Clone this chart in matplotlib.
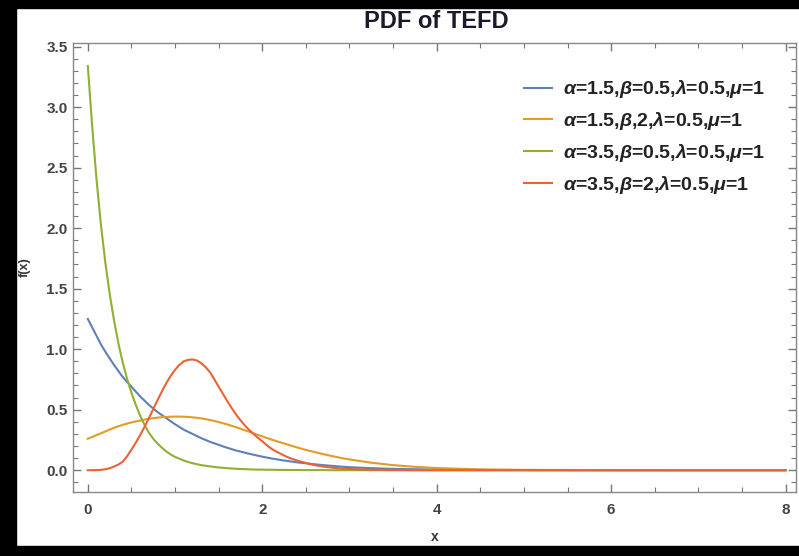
import matplotlib
matplotlib.use("Agg")
import matplotlib.pyplot as plt
from matplotlib.patches import Rectangle
from matplotlib.ticker import MultipleLocator

# values
xs = [0.0, 0.05, 0.1, 0.15, 0.2, 0.25, 0.3, 0.35, 0.4, 0.45,
      0.5, 0.55, 0.6, 0.65, 0.7, 0.75, 0.8, 0.85, 0.9, 0.95,
      1.0, 1.05, 1.1, 1.15, 1.2, 1.25, 1.3, 1.35, 1.4, 1.45,
      1.5, 1.55, 1.6, 1.65, 1.7, 1.75, 1.8, 1.85, 1.9, 1.95,
      2.0, 2.05, 2.1, 2.15, 2.2, 2.25, 2.3, 2.35, 2.4, 2.45,
      2.5, 2.6, 2.7, 2.8, 2.9, 3.0, 3.25, 3.5, 3.75, 4.0,
      4.5, 5.0, 6.0, 7.0, 8.0]

blue = [1.25, 1.18, 1.11, 1.04, 0.98, 0.925, 0.87, 0.82, 0.77, 0.73,
        0.69, 0.65, 0.61, 0.575, 0.54, 0.51, 0.48, 0.455, 0.43, 0.405,
        0.38, 0.357, 0.335, 0.317, 0.30, 0.282, 0.265, 0.25, 0.235, 0.222,
        0.21, 0.197, 0.185, 0.174, 0.163, 0.154, 0.145, 0.136, 0.128, 0.12,
        0.112, 0.105, 0.098, 0.092, 0.086, 0.08, 0.075, 0.07, 0.065, 0.061,
        0.057, 0.049, 0.042, 0.036, 0.03, 0.025, 0.017, 0.011, 0.008, 0.005,
        0.002, 0.001, 0.0, 0.0, 0.0]

orange = [0.26, 0.275, 0.29, 0.305, 0.32, 0.335, 0.35, 0.363, 0.375, 0.385,
          0.395, 0.403, 0.41, 0.418, 0.425, 0.43, 0.435, 0.438, 0.44, 0.442,
          0.443, 0.443, 0.442, 0.44, 0.437, 0.433, 0.428, 0.422, 0.415, 0.407,
          0.398, 0.388, 0.378, 0.367, 0.355, 0.343, 0.33, 0.318, 0.305, 0.292,
          0.28, 0.267, 0.255, 0.243, 0.232, 0.221, 0.21, 0.199, 0.188, 0.178,
          0.168, 0.15, 0.133, 0.117, 0.102, 0.089, 0.062, 0.042, 0.028, 0.018,
          0.007, 0.003, 0.0005, 0.0, 0.0]

green = [3.34, 2.84, 2.40, 2.03, 1.72, 1.46, 1.24, 1.05, 0.89, 0.755,
         0.64, 0.54, 0.45, 0.375, 0.31, 0.26, 0.22, 0.185, 0.155, 0.13,
         0.11, 0.095, 0.08, 0.068, 0.058, 0.05, 0.042, 0.037, 0.032, 0.027,
         0.023, 0.02, 0.017, 0.014, 0.012, 0.01, 0.009, 0.007, 0.006, 0.005,
         0.005, 0.004, 0.004, 0.003, 0.003, 0.002, 0.002, 0.002, 0.002, 0.001,
         0.001, 0.001, 0.001, 0.0, 0.0, 0.0, 0.0, 0.0, 0.0, 0.0,
         0.0, 0.0, 0.0, 0.0, 0.0]

red = [0.0, 0.0, 0.001, 0.003, 0.008, 0.016, 0.03, 0.047, 0.07, 0.115,
       0.17, 0.228, 0.29, 0.358, 0.43, 0.505, 0.58, 0.652, 0.72, 0.78,
       0.83, 0.87, 0.90, 0.912, 0.915, 0.907, 0.885, 0.852, 0.81, 0.752,
       0.69, 0.63, 0.57, 0.513, 0.46, 0.413, 0.37, 0.333, 0.30, 0.268,
       0.24, 0.208, 0.18, 0.158, 0.14, 0.122, 0.105, 0.092, 0.08, 0.07,
       0.06, 0.042, 0.03, 0.021, 0.015, 0.01, 0.004, 0.002, 0.0, 0.0,
       0.0, 0.0, 0.0, 0.0, 0.0]

labels = [r"$\alpha$=1.5,$\beta$=0.5,$\lambda$=0.5,$\mu$=1",
          r"$\alpha$=1.5,$\beta$,2,$\lambda$=0.5,$\mu$=1",
          r"$\alpha$=3.5,$\beta$=0.5,$\lambda$=0.5,$\mu$=1",
          r"$\alpha$=3.5,$\beta$=2,$\lambda$=0.5,$\mu$=1"]
colors = ["#5E81B5", "#E19C24", "#8FB032", "#EB6235"]

plt.rcParams["font.family"] = "Liberation Sans"
plt.rcParams["mathtext.fontset"] = "custom"
plt.rcParams["mathtext.it"] = "Liberation Sans:italic:bold"
plt.rcParams["mathtext.rm"] = "Liberation Sans:bold"

fig = plt.figure(figsize=(7.99, 5.56), dpi=100)
ax = fig.add_axes([73 / 799, 64 / 556, 723 / 799, 449 / 556])

for ys, c, lab in zip([blue, orange, green, red], colors, labels):
    ax.plot(xs, ys, color=c, lw=1.5, label=lab)

ax.set_xlim(-0.17, 8.12)
ax.set_ylim(-0.18, 3.53)
ax.xaxis.set_minor_locator(MultipleLocator(0.5))
ax.yaxis.set_minor_locator(MultipleLocator(0.1))
ax.set_xticks([0, 2, 4, 6, 8])
ax.set_xticklabels(["0", "2", "4", "6", "8"])
ax.set_yticks([0.0, 0.5, 1.0, 1.5, 2.0, 2.5, 3.0, 3.5])
ax.set_yticklabels(["0.0", "0.5", "1.0", "1.5", "2.0", "2.5", "3.0", "3.5"])

ax.tick_params(which="both", direction="in", top=True, right=True, color="#777777")
ax.tick_params(which="major", length=6, width=1)
ax.tick_params(which="minor", length=3.5, width=0.8)
ax.tick_params(axis="x", which="major", pad=8)
ax.tick_params(axis="y", which="major", pad=4)
for lbl in ax.get_xticklabels() + ax.get_yticklabels():
    lbl.set_fontsize(11)
    lbl.set_fontweight("bold")
    lbl.set_color("#444444")
for sp in ax.spines.values():
    sp.set_color("#888888")
    sp.set_linewidth(1)

ax.set_xlabel("x", fontsize=10, fontweight="bold", color="#333333")
ax.xaxis.set_label_coords(0.5, -0.085)
ax.set_ylabel("f(x)", fontsize=9, fontweight="bold", color="#333333")
ax.yaxis.set_label_coords(-0.058, 0.5)
fig.text(0.546, 0.962, "PDF of TEFD", ha="center", va="center",
         fontsize=17, fontweight="bold", color="#1a1a2a")

leg = ax.legend(loc="upper left", bbox_to_anchor=(0.6, 0.96), frameon=False,
                handlelength=1.4, handletextpad=0.6, labelspacing=0.5,
                prop={"size": 14, "weight": "bold"})
for t in leg.get_texts():
    t.set_color("#222222")

# black frame around the picture
fig.patches.append(Rectangle((0, 0), 16 / 799, 1, transform=fig.transFigure,
                             color="black", zorder=10))
fig.patches.append(Rectangle((0, 548 / 556), 1, 8 / 556, transform=fig.transFigure,
                             color="black", zorder=10))
fig.patches.append(Rectangle((0, 0), 1, 10 / 556, transform=fig.transFigure,
                             color="black", zorder=10))

fig.savefig("out.png", dpi=100)
